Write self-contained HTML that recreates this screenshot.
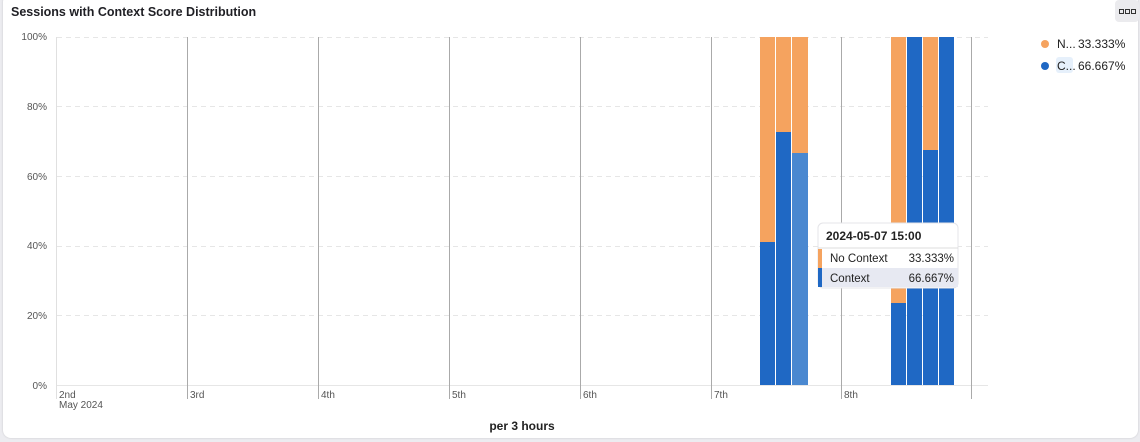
<!DOCTYPE html>
<html><head><meta charset="utf-8"><style>
html,body{margin:0;padding:0;width:1140px;height:442px;background:#ececf0;overflow:hidden;font-family:"Liberation Sans",sans-serif}
.card{position:absolute;left:3px;top:-6px;width:1135px;height:444px;background:#fff;border-radius:8px;box-shadow:0 0 2px rgba(0,0,0,.15)}
svg{position:absolute;left:0;top:0}
</style></head><body>
<div class="card"></div>
<svg width="1140" height="442" font-family="Liberation Sans, sans-serif">
<text x="11" y="16" font-size="12.5" font-weight="bold" fill="#1f1f24">Sessions with Context Score Distribution</text>
<rect x="1115" y="0" width="24" height="22" rx="4" fill="#ebebee"/>
<g fill="none" stroke="#333" stroke-width="1"><rect x="1119.5" y="9.5" width="4" height="4"/><rect x="1125.5" y="9.5" width="4" height="4"/><rect x="1131.5" y="9.5" width="4" height="4"/></g>
<g stroke="#e6e6e6" stroke-dasharray="5,4"><line x1="57" x2="988" y1="37.5" y2="37.5"/><line x1="57" x2="988" y1="106.5" y2="106.5"/><line x1="57" x2="988" y1="176.5" y2="176.5"/><line x1="57" x2="988" y1="246.5" y2="246.5"/><line x1="57" x2="988" y1="315.5" y2="315.5"/></g>
<line x1="57" x2="988" y1="385.5" y2="385.5" stroke="#e6e6e6"/>
<g font-size="10" fill="#555" text-anchor="end"><text x="47" y="40">100%</text><text x="47" y="110">80%</text><text x="47" y="180">60%</text><text x="47" y="249">40%</text><text x="47" y="319">20%</text><text x="47" y="389">0%</text></g>
<g stroke="#aaa"><line x1="56.5" y1="37" x2="56.5" y2="399" stroke="#e0e0e0"/><line x1="187.5" y1="37" x2="187.5" y2="399"/><line x1="318.5" y1="37" x2="318.5" y2="399"/><line x1="449.5" y1="37" x2="449.5" y2="399"/><line x1="580.5" y1="37" x2="580.5" y2="399"/><line x1="711.5" y1="37" x2="711.5" y2="399"/><line x1="841.5" y1="37" x2="841.5" y2="399"/><line x1="971.5" y1="37" x2="971.5" y2="399"/></g>
<g font-size="10" fill="#555"><text x="59" y="398">2nd</text><text x="59" y="408">May 2024</text><text x="190" y="398">3rd</text><text x="321" y="398">4th</text><text x="452" y="398">5th</text><text x="583" y="398">6th</text><text x="714" y="398">7th</text><text x="844" y="398">8th</text></g>
<g>
<rect x="760" y="37" width="15" height="348" fill="#f5a35f"/><rect x="760" y="242" width="15" height="143" fill="#1f68c4"/>
<rect x="776" y="37" width="15" height="348" fill="#f5a35f"/><rect x="776" y="132" width="15" height="253" fill="#1f68c4"/>
<rect x="792" y="37" width="16" height="348" fill="#f5a35f"/><rect x="792" y="153" width="16" height="232" fill="#4a88d0"/>
<rect x="891" y="37" width="15" height="348" fill="#f5a35f"/><rect x="891" y="303" width="15" height="82" fill="#1f68c4"/>
<rect x="907" y="37" width="15" height="348" fill="#1f68c4"/>
<rect x="923" y="37" width="15" height="348" fill="#f5a35f"/><rect x="923" y="150" width="15" height="235" fill="#1f68c4"/>
<rect x="939" y="37" width="15" height="348" fill="#1f68c4"/>
</g>
<g>
<rect x="818" y="223" width="140" height="65" rx="5" fill="#fff" stroke="#e4e4e8"/>
<text x="826" y="240" font-size="12" font-weight="bold" fill="#222">2024-05-07 15:00</text>
<line x1="818" x2="958" y1="248" y2="248" stroke="#ddd"/>
<rect x="818" y="268" width="140" height="19" fill="#e7e9f2"/>
<rect x="818" y="249" width="4" height="19" fill="#f5a35f"/><rect x="818" y="268" width="4" height="19" fill="#1f68c4"/>
<g font-size="11.5" fill="#222"><text x="830" y="262">No Context</text><text x="954" y="262" text-anchor="end">33.333%</text><text x="830" y="282">Context</text><text x="954" y="282" text-anchor="end">66.667%</text></g>
</g>
<circle cx="1045" cy="44" r="4" fill="#f5a35f"/><circle cx="1045" cy="66" r="4" fill="#1f68c4"/>
<rect x="1056" y="57" width="17" height="16" rx="3" fill="#e6f0fb"/>
<g font-size="12" fill="#222"><text x="1057" y="48">N...</text><text x="1078" y="48">33.333%</text><text x="1057" y="70">C...</text><text x="1078" y="70">66.667%</text></g>
<text x="522" y="430" font-size="12" font-weight="bold" fill="#222" text-anchor="middle">per 3 hours</text>
</svg>
</body></html>
